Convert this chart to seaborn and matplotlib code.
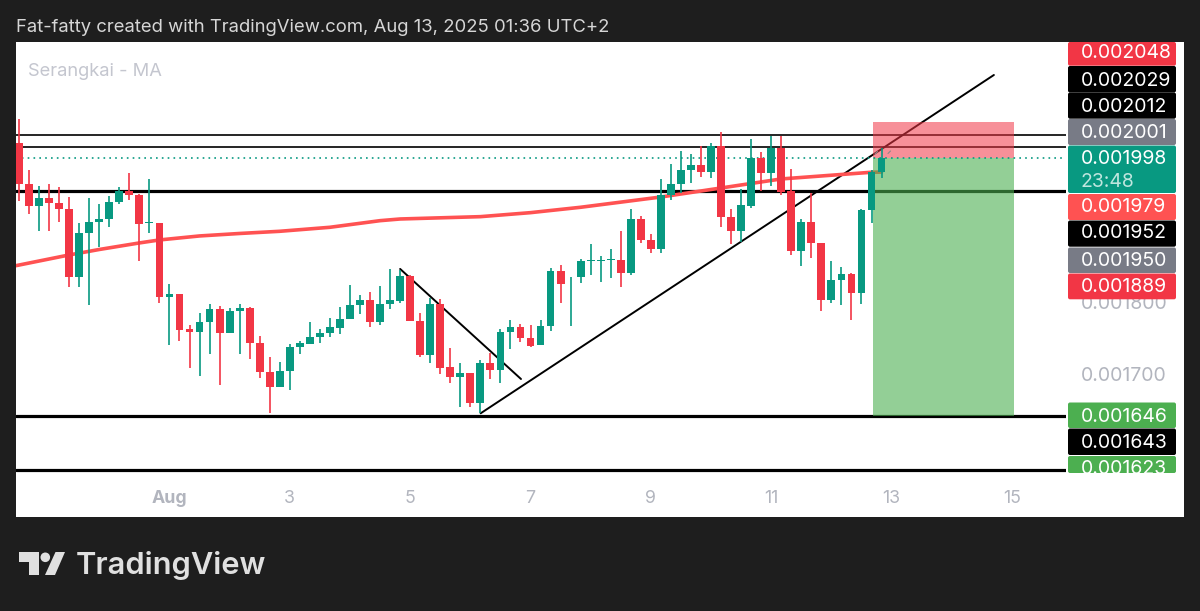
import matplotlib
matplotlib.use("Agg")
import matplotlib.pyplot as plt
import seaborn as sns
import pandas as pd
import numpy as np
from matplotlib.patches import FancyBboxPatch, Rectangle, Polygon, Circle
from matplotlib.lines import Line2D
from matplotlib.transforms import Affine2D, Bbox

# prices are in millionths, bar 15 = Aug 1 00:00, 4H bars
highs = [2051, 1981, 1959, 1962, 1957, 1944, 1908.6, 1942, 1933.8, 1945.7, 1957, 1976.8, 1947.5, 1968.6, 1908.6,
         1824.8, 1810, 1767.6, 1784.5, 1796.4, 1794.6, 1791.8, 1796.4, 1793, 1752.9, 1723.6, 1717.7, 1742.4,
         1746.5, 1771.7, 1762, 1778, 1793, 1822.5, 1809.7, 1813, 1821.6, 1845, 1843.5, 1836.2, 1784, 1805.5,
         1803.3, 1736.9, 1716.2, 1702.5, 1720, 1729, 1762.5, 1775.3, 1769.4, 1768.5, 1774.8, 1846.3, 1850.4,
         1834.4, 1858.2, 1878.8, 1862.3, 1871.9, 1897.1, 1926.9, 1917.3, 1892.6, 1969, 1989.2, 2006.6, 2002.9,
         2013.9, 2018.5, 2032.7, 1926.9, 1954.8, 2023, 2006.1, 2028.1, 2027.6, 1981.8, 1914.1, 1948.9, 1881,
         1855.5, 1847.7, 1839, 1926.9, 1980.9, 2010.7]
body_tops = [2017.6, 1962, 1942.5, 1942.5, 1936, 1927, 1894.4, 1909.5, 1914, 1937.4, 1951.6, 1951.6, 1947, 1910, 1908.6,
             1810.2, 1810, 1762, 1771.7, 1789.6, 1789.6, 1786.8, 1791.8, 1791.8, 1743.3, 1703.5, 1704.9, 1737.8,
             1742.8, 1751.5, 1757.5, 1764.8, 1776.7, 1795, 1802.4, 1802.4, 1796.9, 1801.9, 1835.3, 1835.8, 1773, 1796.9,
             1796.9, 1709.9, 1702.5, 1702.5, 1715.4, 1715.4, 1758.4, 1764.8, 1764.8, 1749.7, 1766.6, 1841.7, 1841.7,
             1824.8, 1855.5, 1857.3, 1857.3, 1858.2, 1857.3, 1914.1, 1914.1, 1884.8, 1946.6, 1961.7, 1980.9, 1987.8,
             1987.8, 2013.9, 2013.9, 1915.9, 1932.4, 1996.9, 1996.9, 2010.7, 2010.7, 1952.5, 1909, 1909, 1880.6,
             1829.4, 1837.6, 1837.6, 1926, 1977.7, 1996.9]
body_bottoms = [1961.7, 1932, 1932, 1935.6, 1927, 1834.4, 1834.4, 1894.4, 1909, 1913.6, 1937.4, 1946.6, 1906.8, 1907.7, 1807,
                1807, 1761.6, 1758, 1758, 1771.7, 1757, 1756.6, 1786.8, 1743.3, 1703.5, 1683.3, 1683.3, 1704.9,
                1737.8, 1742.4, 1751.5, 1757, 1764.3, 1776.2, 1795.5, 1772, 1772, 1796.9, 1801.4, 1773, 1726.8, 1727.2,
                1709.4, 1697, 1697, 1660.8, 1660.8, 1706.2, 1706.2, 1758, 1749.7, 1739.6, 1740, 1766.6, 1824.8,
                1824.8, 1834.4, 1855.5, 1855.9, 1856.8, 1839, 1839, 1884.8, 1871.9, 1871.9, 1946.6, 1961.7, 1980.9,
                1977.7, 1977.7, 1915.9, 1897.1, 1897.1, 1931.5, 1976.3, 1976.8, 1950.7, 1870.1, 1870.1, 1880.2, 1802.8,
                1802.8, 1829.4, 1811.5, 1811.5, 1926, 1977.7]
lows = [1938, 1920, 1897, 1897.6, 1909, 1820.7, 1820.7, 1796, 1875.6, 1902.6, 1934.2, 1939.7, 1855.9, 1894.9, 1797.8,
        1740, 1745.6, 1709, 1698, 1728.2, 1685, 1756.6, 1728.2, 1720.9, 1695, 1646.7, 1683.3, 1678.8,
        1728.6, 1742.4, 1743.7, 1752, 1756, 1776.2, 1783.6, 1765.3, 1768.5, 1790.4, 1798.2, 1773, 1723.6, 1716.2,
        1700.7, 1688.8, 1655.8, 1655.8, 1646.7, 1693.8, 1687.9, 1735.5, 1745.1, 1738.2, 1740, 1760.2, 1797.7,
        1766.2, 1826.2, 1836.7, 1827.6, 1833, 1820.7, 1836.2, 1880.2, 1867.4, 1867.4, 1939.7, 1948.9, 1962.6,
        1971.8, 1969.5, 1903.1, 1879.7, 1882.5, 1929.2, 1952.5, 1959.4, 1947, 1864.6, 1849.5, 1860, 1787.7,
        1798.2, 1795, 1774.9, 1797.3, 1907.7, 1969.5]
is_green = [0, 0, 1, 0, 0, 0, 1, 1, 1, 1, 1, 0, 0, 1, 0,
            1, 0, 0, 1, 1, 0, 1, 1, 0, 0, 0, 1, 1,
            1, 1, 1, 1, 1, 1, 1, 0, 1, 1, 1, 0, 0, 1,
            0, 0, 1, 0, 1, 0, 1, 1, 0, 0, 1, 1, 0,
            1, 1, 1, 1, 1, 0, 1, 0, 0, 1, 1, 1, 1,
            0, 1, 0, 0, 1, 1, 0, 1, 0, 0, 1, 0, 0,
            1, 1, 0, 1, 1, 1]

ma_bars = [-0.3, 5, 8, 12, 14, 18, 22, 26, 31, 36, 38, 46, 51, 56, 64, 70, 76, 85, 86]
ma_vals = [1849.5, 1864.2, 1871.7, 1880.7, 1884.8, 1890.3, 1893.7, 1896.7, 1902.2, 1911.3, 1913.6, 1916.8, 1922.3,
           1929.7, 1943.8, 1956.2, 1968.6, 1977.8, 1978]

solid_levels = [2029, 2012]
thick_levels = [1952, 1643, 1568.5]
last_price = 1997
trend_up_x, trend_up_y = [46.03, 97.2], [1646.7, 2111.4]
trend_down_x, trend_down_y = [38, 50.05], [1845, 1693.8]
box_x = [85.1, 99.2]
box_entry, box_stop, box_target = 1997, 2046.5, 1643

x_ticks = [15, 27, 39, 51, 63, 75, 87, 99]
x_labels = ["Aug", "3", "5", "7", "9", "11", "13", "15"]
y_ticks = [1800, 1700]
y_labels = ["0.001800", "0.001700"]

tag_texts = ["0.002048", "0.002029", "0.002012", "0.002001", "0.001998", "0.001979", "0.001952", "0.001950",
             "0.001889", "0.001646", "0.001643", "0.001623"]
tag_colors = ["#f23645", "#000000", "#000000", "#787b86", "#089981", "#ff5252", "#000000", "#787b86",
              "#f23645", "#4caf50", "#000000", "#4caf50"]
tag_tops = [42, 66, 92.5, 119, 145.5, 194, 220.5, 247.5, 273.5, 402.5, 428.5, 456]
tag_bottoms = [65.7, 92.5, 118.7, 145, 193, 220, 246.7, 273, 299.3, 428, 455, 473]
tag_centers = [53, 80, 106, 132, 159, 207, 233, 260, 286, 416, 442, 468]

GREEN, RED = "#089981", "#f23645"
DARK = "#1e1e1e"
W, H = 1200, 611

sns.set_theme(style="white")
plt.rcParams['font.family'] = ['Inter', 'DejaVu Sans']

df = pd.DataFrame({"bar": np.arange(len(highs)), "high": highs, "top": body_tops, "bottom": body_bottoms,
                   "low": lows, "green": is_green})
df["color"] = np.where(df["green"] == 1, GREEN, RED)
ma = pd.DataFrame({"bar": ma_bars, "ma": ma_vals})

fig = plt.figure(figsize=(W / 100, H / 100), dpi=100, facecolor=DARK)
# pixel coords with origin top left, handy for the price tags
px = Affine2D().scale(1 / W, -1 / H).translate(0, 1) + fig.transFigure

fig.add_artist(Rectangle((16, 42), 1168, 475, transform=px, fc="white", ec="none", zorder=-1))

ax = fig.add_axes([16 / W, (H - 473) / H, 1050 / W, 431 / H])
ax.set_xlim(-0.3, 104.39)
ax.set_ylim(1564.7, 2156.7)
for s in ax.spines.values():
    s.set_visible(False)

for lv in solid_levels:
    ax.axhline(lv, color="black", lw=1.2, zorder=2)
for lv in thick_levels:
    ax.axhline(lv, color="black", lw=2.3, zorder=2)

ax.plot(trend_up_x, trend_up_y, color="black", lw=1.4, zorder=2)
ax.plot(trend_down_x, trend_down_y, color="black", lw=1.4, zorder=2)

sns.lineplot(data=ma, x="bar", y="ma", color="#ff5252", lw=2.6, ax=ax, zorder=3, legend=False)

ax.fill_between(box_x, box_entry, box_stop, color="#f23645", alpha=0.55, lw=0, zorder=4)
ax.fill_between(box_x, box_target, box_entry, color="#4caf50", alpha=0.6, lw=0, zorder=4)
ax.axhline(last_price, color=GREEN, lw=1.2, ls=(0, (1, 2.5)), zorder=4.5)

ax.vlines(df["bar"], df["low"], df["high"], colors=df["color"], lw=1.2, zorder=5)
ax.bar(df["bar"], df["top"] - df["bottom"], bottom=df["bottom"], width=0.78, color=df["color"], lw=0, zorder=6)

ax.set_xlabel("")
ax.set_ylabel("")
ax.set_xticks(x_ticks)
ax.set_xticklabels(x_labels, fontsize=12.8, color="#b2b5be")
ax.get_xticklabels()[0].set_fontweight("bold")
ax.tick_params(axis="x", length=0, pad=12.5)
ax.yaxis.tick_right()
ax.set_yticks(y_ticks)
ax.set_yticklabels(y_labels, fontsize=14, color="#b2b5be")
ax.tick_params(axis="y", length=0, pad=10.8)

ax.text(28, 71, "Serangkai - MA", transform=px, fontsize=13.2, color="#c4c6cf", va="center")

# small grey strokes next to the last candle
for sx, sy in [((875, 877.5), (154, 151.5)), ((888, 890.5), (153.5, 151))]:
    fig.add_artist(Line2D(sx, sy, transform=px, color="#8a8a8a", lw=0.8, zorder=1))

# price tags on the right, last one is cut by the pane edge
pane_clip = Bbox([[1060, H - 473], [1190, H - 40]])
for txt, col, top, bot, cy in zip(tag_texts, tag_colors, tag_tops, tag_bottoms, tag_centers):
    tag = FancyBboxPatch((1068, top), 108, bot - top, boxstyle="round,pad=0,rounding_size=2", transform=px,
                         fc=col, ec="none", zorder=3)
    fig.add_artist(tag)
    t = fig.text(1081, cy + 0.5, txt, transform=px, fontsize=14, color="white", va="center", zorder=4)
    t.set_clip_box(pane_clip)
    t.set_clip_on(True)
fig.text(1081, 182, "23:48", transform=px, fontsize=14, color="#bfe6de", va="center", zorder=4)

fig.text(16, 28, "Fat-fatty created with TradingView.com, Aug 13, 2025 01:36 UTC+2", transform=px,
         fontsize=13.3, color="#d6d6d6", va="center")

# logo
logo = "#e0e0e0"
fig.add_artist(Polygon([(19, 552), (39.3, 552), (39.3, 575), (29, 575), (29, 562.3), (19, 562.3)], transform=px,
                       fc=logo, ec="none"))
fig.add_artist(Circle((45.3, 557.3), 4.8, transform=px, fc=logo, ec="none"))
fig.add_artist(Polygon([(55.5, 552), (65, 552), (55, 575), (45, 575)], transform=px, fc=logo, ec="none"))
fig.text(76, 566, "TradingView", transform=px, fontsize=22.2, fontweight="semibold", color=logo, va="center")

fig.savefig("out.png", dpi=100, facecolor=DARK)
